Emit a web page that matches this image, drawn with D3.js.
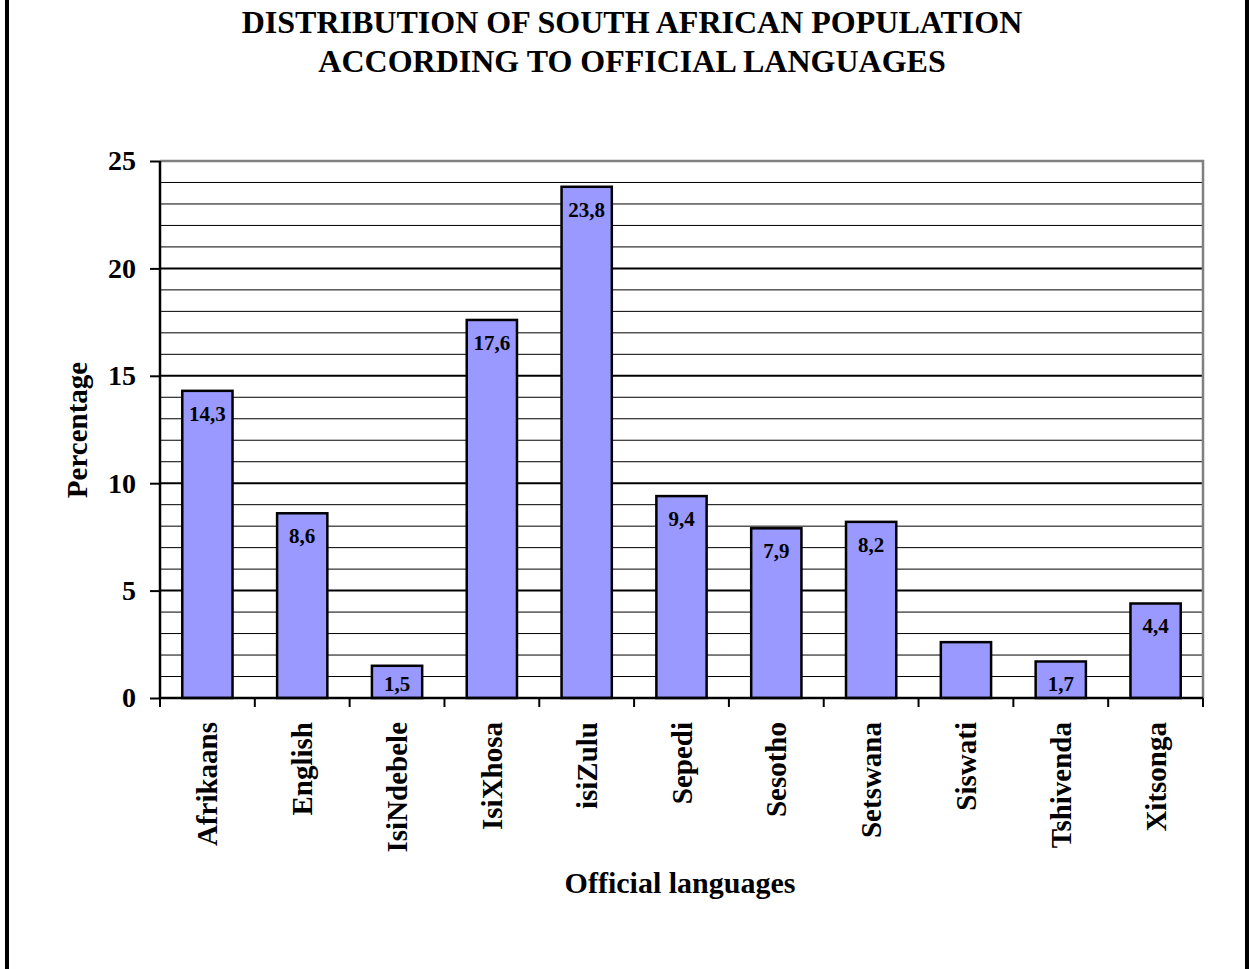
<!DOCTYPE html>
<html>
<head>
<meta charset="utf-8">
<script src="https://cdn.jsdelivr.net/npm/d3@7"></script>
<style>
  body { margin: 0; background: #fff; }
  svg text { font-family: "Liberation Serif", "Times New Roman", serif; font-weight: bold; fill: #000; }
</style>
</head>
<body>
<div id="chart"></div>
<script>
const languages = ['Afrikaans', 'English', 'IsiNdebele', 'IsiXhosa', 'isiZulu', 'Sepedi', 'Sesotho', 'Setswana', 'Siswati', 'Tshivenda', 'Xitsonga'];
const percentages = [14.3, 8.6, 1.5, 17.6, 23.8, 9.4, 7.9, 8.2, 2.6, 1.7, 4.4];
// Siswati has no label in the original
const valueLabels = ['14,3', '8,6', '1,5', '17,6', '23,8', '9,4', '7,9', '8,2', '', '1,7', '4,4'];
const yTicks = [0, 5, 10, 15, 20, 25];
const titleLines = ['DISTRIBUTION OF SOUTH AFRICAN POPULATION', 'ACCORDING TO OFFICIAL LANGUAGES'];

const w = 1249, h = 969;
const plotLeft = 160, plotRight = 1203, plotTop = 161, plotBottom = 698;

const svg = d3.select('#chart').append('svg')
    .attr('width', w)
    .attr('height', h);

svg.append('rect').attr('width', w).attr('height', h).attr('fill', '#fff');

// black side bars of the frame
svg.append('rect').attr('x', 5).attr('y', 0).attr('width', 4).attr('height', h).attr('fill', '#000');
svg.append('rect').attr('x', 1245).attr('y', 0).attr('width', 4).attr('height', h).attr('fill', '#000');

// title
svg.append('g').selectAll('text')
    .data(titleLines)
    .enter()
    .append('text')
    .attr('x', 632)
    .attr('y', (d, i) => 33 + i * 39)
    .attr('text-anchor', 'middle')
    .style('font-size', '32px')
    .text(d => d);

const xScale = d3.scaleBand().domain(languages).range([plotLeft, plotRight]).padding(0);
const yScale = d3.scaleLinear().domain([0, 25]).range([plotBottom, plotTop]);

// gridlines: every unit thin, every 5 thick
const grid = svg.append('g');
grid.selectAll('line.minor')
    .data(d3.range(1, 25).filter(v => v % 5 !== 0))
    .enter()
    .append('line')
    .attr('x1', plotLeft).attr('x2', plotRight)
    .attr('y1', d => yScale(d)).attr('y2', d => yScale(d))
    .attr('stroke', '#000').attr('stroke-width', 1);
grid.selectAll('line.major')
    .data(yTicks.filter(v => v > 0 && v < 25))
    .enter()
    .append('line')
    .attr('x1', plotLeft).attr('x2', plotRight)
    .attr('y1', d => yScale(d)).attr('y2', d => yScale(d))
    .attr('stroke', '#000').attr('stroke-width', 2);

// grey plot border top / right
svg.append('path')
    .attr('d', `M${plotLeft},${yScale(25)}H${plotRight}V${plotBottom}`)
    .attr('fill', 'none').attr('stroke', '#808080').attr('stroke-width', 2.5);

// bars
const barW = xScale.bandwidth() * 0.53;
svg.selectAll('rect.bar')
    .data(percentages)
    .enter()
    .append('rect')
    .attr('class', 'bar')
    .attr('x', (d, i) => xScale(languages[i]) + (xScale.bandwidth() - barW) / 2)
    .attr('y', d => yScale(d))
    .attr('width', barW)
    .attr('height', d => yScale(0) - yScale(d))
    .attr('fill', '#9999ff')
    .attr('stroke', '#000')
    .attr('stroke-width', 2.5);

svg.selectAll('text.val')
    .data(percentages)
    .enter()
    .append('text')
    .attr('class', 'val')
    .attr('x', (d, i) => xScale(languages[i]) + xScale.bandwidth() / 2)
    .attr('y', d => Math.min(yScale(d) + 30, plotBottom - 7))
    .attr('text-anchor', 'middle')
    .style('font-size', '21px')
    .text((d, i) => valueLabels[i]);

// y axis
const yAxis = d3.axisLeft(yScale).tickValues(yTicks).tickSize(10).tickPadding(14);
const yg = svg.append('g')
    .attr('transform', 'translate(' + plotLeft + ',0)')
    .call(yAxis);
yg.select('.domain').attr('stroke', '#000').attr('stroke-width', 2.5).attr('d', `M0,${plotTop}V${plotBottom}`);
yg.selectAll('.tick line').attr('stroke', '#000').attr('stroke-width', 2);
yg.selectAll('.tick text').style('font-size', '28px').style('font-family', '"Liberation Serif", serif').attr('font-weight', 'bold');

// x axis with ticks at category boundaries
const xg = svg.append('g');
xg.append('line')
    .attr('x1', plotLeft).attr('x2', plotRight)
    .attr('y1', plotBottom).attr('y2', plotBottom)
    .attr('stroke', '#000').attr('stroke-width', 2.5);
xg.selectAll('line.tick')
    .data(d3.range(languages.length + 1))
    .enter()
    .append('line')
    .attr('x1', d => plotLeft + d * xScale.step())
    .attr('x2', d => plotLeft + d * xScale.step())
    .attr('y1', plotBottom).attr('y2', plotBottom + 9)
    .attr('stroke', '#000').attr('stroke-width', 2);
xg.selectAll('text')
    .data(languages)
    .enter()
    .append('text')
    .attr('transform', d => 'translate(' + (xScale(d) + xScale.bandwidth() / 2 + 10) + ',722) rotate(-90)')
    .attr('text-anchor', 'end')
    .style('font-size', '29px')
    .text(d => d);

// axis titles
svg.append('text')
    .attr('transform', 'translate(87,430) rotate(-90)')
    .attr('text-anchor', 'middle')
    .style('font-size', '29px')
    .text('Percentage');

svg.append('text')
    .attr('x', 680)
    .attr('y', 893)
    .attr('text-anchor', 'middle')
    .style('font-size', '30px')
    .text('Official languages');
</script>
</body>
</html>
